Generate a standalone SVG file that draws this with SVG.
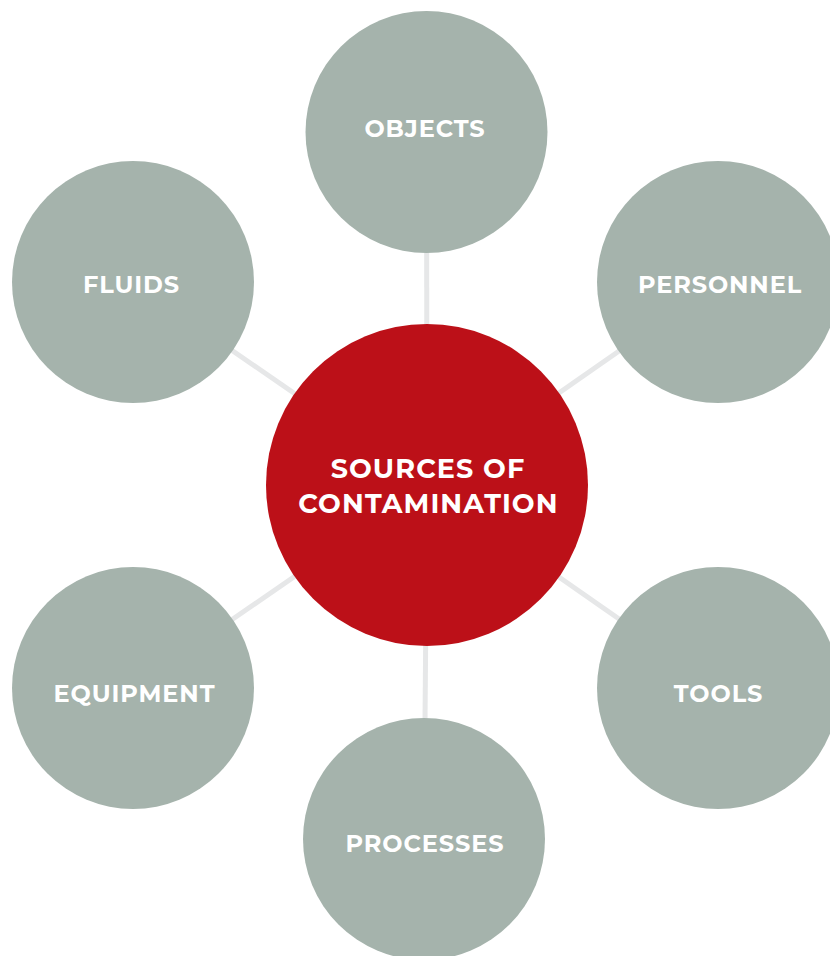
<svg xmlns="http://www.w3.org/2000/svg" width="830" height="956" viewBox="0 0 830 956">
<style>
.sat{fill:#a5b3ac}
.hub{fill:#bc1018}
.lbl{font-family:"Montserrat","Noto Sans","DejaVu Sans",sans-serif;font-weight:700;fill:#ffffff;text-anchor:middle;font-size:24px;letter-spacing:0.9px}
.hlbl{font-size:27px;letter-spacing:1.1px}
.con{stroke:#e6e7e8;stroke-width:5;fill:none}
</style>
<rect width="830" height="956" fill="#ffffff"/>
<g id="connectors">
<line class="con" x1="427" y1="485" x2="426.5" y2="132"/>
<line class="con" x1="427" y1="485" x2="133" y2="282"/>
<line class="con" x1="427" y1="485" x2="718" y2="282"/>
<line class="con" x1="427" y1="485" x2="133" y2="688"/>
<line class="con" x1="427" y1="485" x2="718" y2="688"/>
<line class="con" x1="427" y1="485" x2="424" y2="839"/>
</g>
<g id="objects"><circle class="sat" cx="426.5" cy="132" r="121"/><text class="lbl" x="425" y="137">OBJECTS</text></g>
<g id="fluids"><circle class="sat" cx="133" cy="282" r="121"/><text class="lbl" x="131.5" y="293">FLUIDS</text></g>
<g id="personnel"><circle class="sat" cx="718" cy="282" r="121"/><text class="lbl" x="720" y="293">PERSONNEL</text></g>
<g id="equipment"><circle class="sat" cx="133" cy="688" r="121"/><text class="lbl" x="134.5" y="702">EQUIPMENT</text></g>
<g id="tools"><circle class="sat" cx="718" cy="688" r="121"/><text class="lbl" x="718.5" y="702">TOOLS</text></g>
<g id="processes"><circle class="sat" cx="424" cy="839" r="121"/><text class="lbl" x="425" y="852">PROCESSES</text></g>
<g id="hub"><circle class="hub" cx="427" cy="485" r="161"/>
<text class="lbl hlbl" x="428" y="478">SOURCES OF</text>
<text class="lbl hlbl" x="428.5" y="512.5">CONTAMINATION</text></g>
</svg>
